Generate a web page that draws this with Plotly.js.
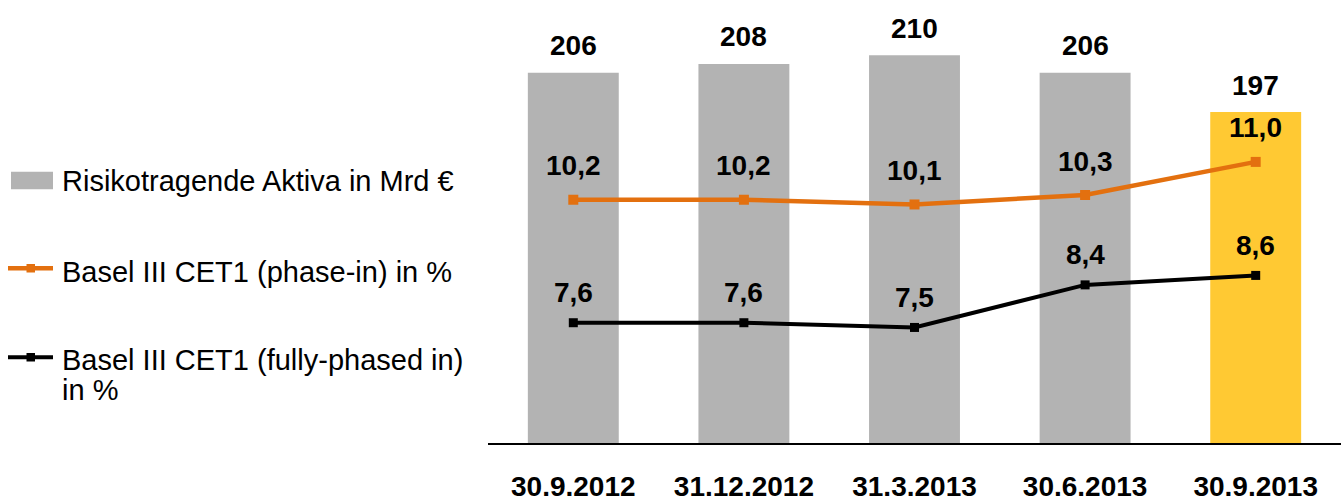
<!DOCTYPE html>
<html>
<head>
<meta charset="utf-8">
<script src="https://cdn.plot.ly/plotly-3.0.1.min.js"></script>
<style>html,body{margin:0;padding:0;background:#fff;}#chart{width:1341px;height:502px;}</style>
</head>
<body>
<div id="chart"></div>
<script>
const categories = ['30.9.2012', '31.12.2012', '31.3.2013', '30.6.2013', '30.9.2013'];
const rwa = [206, 208, 210, 206, 197];
const cet1PhaseIn = [10.2, 10.2, 10.1, 10.3, 11.0];
const cet1Fully = [7.6, 7.6, 7.5, 8.4, 8.6];
const seriesNames = ['Risikotragende Aktiva in Mrd €', 'Basel III CET1 (phase-in) in %', 'Basel III CET1 (fully-phased in)', 'in %'];

const W = 1341, H = 502, PB = 443;
const GRAY = '#B3B3B3', YELLOW = '#FFC933', ORANGE = '#E3700F', BLACK = '#000000';
const FONT = 'Liberation Sans, Arial, sans-serif';
const px = v => v / W;
const py = v => (PB - v) / PB;
const fmt = v => v.toFixed(1).replace('.', ',');

const barColors = categories.map((c, i) => i === categories.length - 1 ? YELLOW : GRAY);

const traces = [
  {type: 'bar', x: categories, y: rwa, marker: {color: barColors}, yaxis: 'y', hoverinfo: 'skip', showlegend: false},
  {type: 'scatter', mode: 'lines+markers', x: categories, y: cet1PhaseIn, yaxis: 'y2',
   line: {color: ORANGE, width: 4.5}, marker: {symbol: 'square', size: 10, color: ORANGE}, showlegend: false, hoverinfo: 'skip'},
  {type: 'scatter', mode: 'lines+markers', x: categories, y: cet1Fully, yaxis: 'y2',
   line: {color: BLACK, width: 4}, marker: {symbol: 'square', size: 9, color: BLACK}, showlegend: false, hoverinfo: 'skip'}
];

const labelFont = {family: FONT, size: 28, color: '#000'};
const annotations = [];
categories.forEach((c, i) => {
  annotations.push({x: c, y: rwa[i], xref: 'x', yref: 'y', text: '<b>' + rwa[i] + '</b>', showarrow: false, yshift: 27, font: labelFont});
  annotations.push({x: c, y: cet1PhaseIn[i], xref: 'x', yref: 'y2', text: '<b>' + fmt(cet1PhaseIn[i]) + '</b>', showarrow: false, yshift: 34, font: labelFont});
  annotations.push({x: c, y: cet1Fully[i], xref: 'x', yref: 'y2', text: '<b>' + fmt(cet1Fully[i]) + '</b>', showarrow: false, yshift: 30, font: labelFont});
});

const legFont = {family: FONT, size: 29, color: '#000'};
const legY = [180.7, 271.7, 360, 390];
seriesNames.forEach((n, i) => {
  annotations.push({xref: 'paper', yref: 'paper', x: px(60), y: py(legY[i]), xanchor: 'left', yanchor: 'middle', text: n, showarrow: false, font: legFont});
});

const shapes = [
  {type: 'rect', xref: 'paper', yref: 'paper', x0: px(11), x1: px(53), y0: py(171.7), y1: py(189.3), fillcolor: GRAY, line: {width: 0}},
  {type: 'line', xref: 'paper', yref: 'paper', x0: px(8), x1: px(53), y0: py(268.3), y1: py(268.3), line: {color: ORANGE, width: 4.5}},
  {type: 'rect', xref: 'paper', yref: 'paper', x0: px(26.5), x1: px(35), y0: py(264), y1: py(272.5), fillcolor: ORANGE, line: {width: 0}},
  {type: 'line', xref: 'paper', yref: 'paper', x0: px(8), x1: px(53), y0: py(357.3), y1: py(357.3), line: {color: BLACK, width: 4}},
  {type: 'rect', xref: 'paper', yref: 'paper', x0: px(26.5), x1: px(35), y0: py(353), y1: py(361.5), fillcolor: BLACK, line: {width: 0}}
];

const layout = {
  width: W, height: H,
  margin: {l: 0, r: 0, t: 0, b: H - PB, pad: 0},
  paper_bgcolor: '#fff', plot_bgcolor: '#fff',
  showlegend: false,
  bargap: 0.467,
  font: {family: FONT},
  xaxis: {domain: [488 / W, 1], type: 'category', showgrid: false, zeroline: false,
          showline: true, linecolor: '#000', linewidth: 1.5, ticks: '', ticklabelstandoff: 18,
          tickfont: {family: FONT, size: 28, color: '#000', weight: 'bold'}, fixedrange: true},
  yaxis: {range: [121.2, 222.65], visible: false, showgrid: false, zeroline: false, fixedrange: true},
  yaxis2: {range: [5.057, 14.423], overlaying: 'y', visible: false, showgrid: false, zeroline: false, fixedrange: true},
  annotations: annotations,
  shapes: shapes
};

Plotly.newPlot('chart', traces, layout, {displayModeBar: false, staticPlot: true});
</script>
</body>
</html>
